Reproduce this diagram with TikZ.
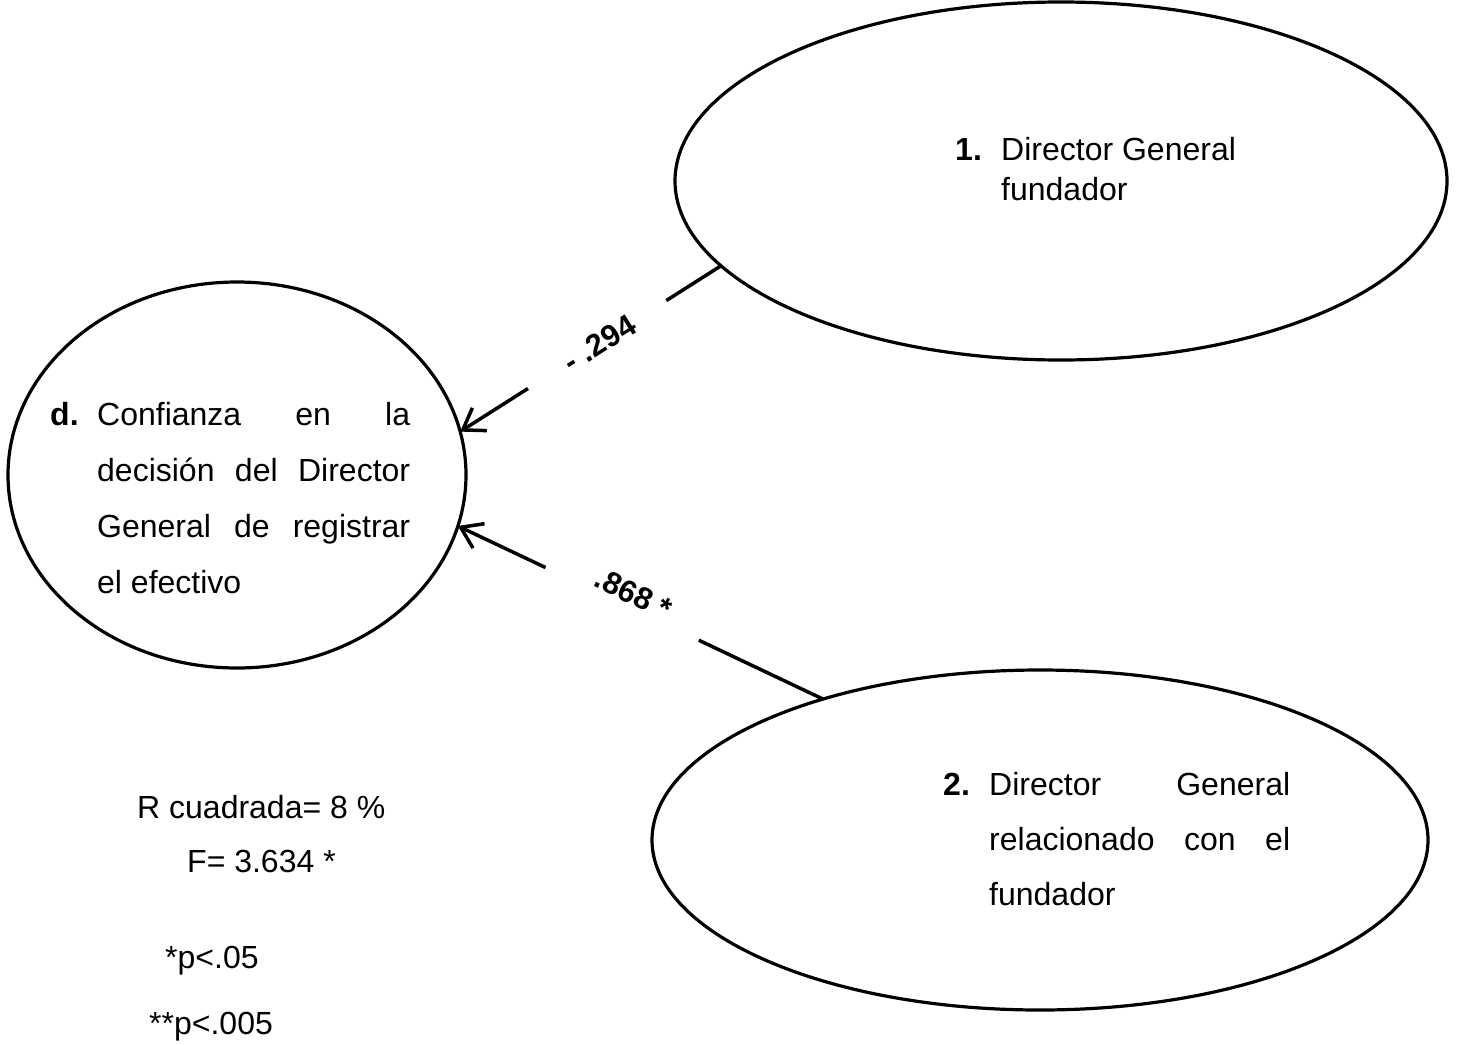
\documentclass[tikz,border=0pt]{standalone}
\usepackage{fontspec}
\setmainfont{Liberation Sans}
\usetikzlibrary{shapes.geometric,arrows.meta}
\newcommand\spreadline[2]{\makebox[#1][s]{#2}}
\begin{document}
\begin{tikzpicture}[x=1pt,y=-1pt,
  var/.style={ellipse, draw, line width=3.2pt, inner sep=0pt, outer sep=0pt},
  txt/.style={anchor=base west, inner sep=0pt, font=\fontsize{32}{40}\selectfont},
  num/.style={txt, font=\fontsize{32}{40}\selectfont\bfseries},
  coef/.style={sloped, inner sep=0pt, font=\fontsize{31}{36}\selectfont\bfseries},
  seg/.style={line width=3.5pt},
  link/.style={seg, -{Straight Barb[length=20pt,width=27pt,line width=3.5pt]}}
]
\fill[white] (0,0) rectangle (1458,1044);
\useasboundingbox (0,0) rectangle (1458,1044);

% the three variables
\node[var, minimum width=458pt, minimum height=386pt] (conf) at (237,475) {};
\node[var, minimum width=772pt, minimum height=358pt] (fund) at (1061,181) {};
\node[var, minimum width=776pt, minimum height=340pt] (rel)  at (1040,840) {};

% dependent variable
\node[num] (dnum) at (50,425) {d.};
\node[txt] (dtxt) at (97,425) {\fontsize{32}{56}\selectfont\parbox[t]{313pt}{%
  \spreadline{313pt}{Confianza en la}\\
  \spreadline{313pt}{decisión del Director}\\
  \spreadline{313pt}{General de registrar}\\
  el efectivo}};

% predictor 1
\node[num] (onum) at (955,160) {1.};
\node[txt] (otxt) at (1001,160) {\parbox[t]{260pt}{Director General\\fundador}};

% predictor 2
\node[num] (tnum) at (943,795) {2.};
\node[txt] (ttxt) at (989,795) {\fontsize{32}{55}\selectfont\parbox[t]{301pt}{%
  \spreadline{301pt}{Director General}\\
  \spreadline{301pt}{relacionado con el}\\
  fundador}};

% paths: each is broken where its coefficient sits
\path (fund.194.2) -- (conf.11.2)
  coordinate[pos=0.21] (a1) coordinate[pos=0.74] (b1)
  node[coef, pos=0.466] (c1) {- .294};
\draw[seg] (fund.194.2) -- (a1);
\draw[link] (b1) -- (conf.11.2);

\path (rel.147.2) -- (conf.-13.9)
  coordinate[pos=0.34] (a2) coordinate[pos=0.76] (b2)
  node[coef, pos=0.535, anchor=south, inner sep=3pt] (c2) {.868 *};
\draw[seg] (rel.147.2) -- (a2);
\draw[link] (b2) -- (conf.-13.9);

% model statistics
\node[txt] (rsq) at (137,818) {R cuadrada= 8 \%};
\node[txt] (fst) at (187,872) {F= 3.634 *};
\node[txt] (p1)  at (165,968) {*p<.05};
\node[txt] (p2)  at (149,1034) {**p<.005};
\end{tikzpicture}
\end{document}
